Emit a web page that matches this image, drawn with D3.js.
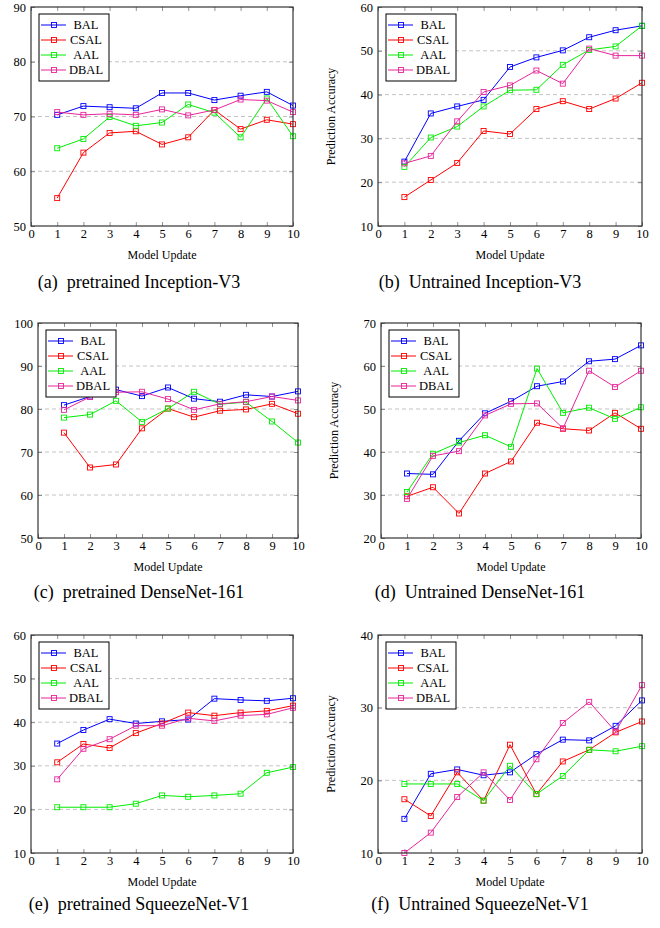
<!DOCTYPE html>
<html>
<head>
<meta charset="utf-8">
<script src="https://cdn.jsdelivr.net/npm/d3@7"></script>
<style>
  body { margin: 0; background: #fff; }
  svg { display: block; }
  text { font-family: "Liberation Serif", "Times New Roman", serif; fill: #000; }
</style>
</head>
<body>
<svg id="chart"></svg>
<script>
const modelUpdates = [1, 2, 3, 4, 5, 6, 7, 8, 9, 10];
const xTicks = [0, 1, 2, 3, 4, 5, 6, 7, 8, 9, 10];
const methods = ["BAL", "CSAL", "AAL", "DBAL"];

// (a) pretrained Inception-V3
const incPreBAL = [70.3, 71.9, 71.7, 71.5, 74.3, 74.3, 73.0, 73.8, 74.5, 72.0];
const incPreCSAL = [55.1, 63.4, 67.0, 67.3, 64.9, 66.2, 71.2, 67.7, 69.4, 68.6];
const incPreAAL = [64.2, 65.9, 69.9, 68.3, 68.9, 72.2, 70.7, 66.2, 73.3, 66.4];
const incPreDBAL = [70.8, 70.3, 70.5, 70.3, 71.3, 70.2, 71.2, 73.1, 72.9, 70.8];
const incPreTicks = [50, 60, 70, 80, 90];

// (b) Untrained Inception-V3
const incUntBAL = [24.7, 35.7, 37.3, 38.8, 46.3, 48.5, 50.1, 53.1, 54.7, 55.7];
const incUntCSAL = [16.6, 20.5, 24.4, 31.7, 31.0, 36.7, 38.5, 36.7, 39.1, 42.7];
const incUntAAL = [23.5, 30.2, 32.7, 37.3, 41.0, 41.1, 46.8, 50.2, 51.0, 55.7];
const incUntDBAL = [24.3, 26.0, 33.9, 40.6, 42.1, 45.5, 42.5, 50.5, 48.9, 48.9];
const incUntTicks = [10, 20, 30, 40, 50, 60];

// (c) pretrained DenseNet-161
const denPreBAL = [80.9, 82.9, 84.5, 83.0, 85.0, 82.4, 81.7, 83.3, 82.9, 84.1];
const denPreCSAL = [74.5, 66.4, 67.1, 75.5, 80.1, 78.1, 79.6, 79.9, 81.2, 78.9];
const denPreAAL = [78.0, 78.7, 81.9, 77.0, 80.1, 84.0, 81.1, 81.6, 77.1, 72.2];
const denPreDBAL = [79.8, 82.8, 83.9, 84.0, 82.3, 79.8, 81.2, 81.7, 82.9, 82.0];
const denPreTicks = [50, 60, 70, 80, 90, 100];

// (d) Untrained DenseNet-161
const denUntBAL = [35.0, 34.8, 42.6, 49.0, 51.8, 55.3, 56.4, 61.1, 61.6, 64.8];
const denUntCSAL = [29.7, 31.8, 25.7, 35.0, 37.8, 46.8, 45.4, 45.0, 49.1, 45.4];
const denUntAAL = [30.7, 39.6, 42.2, 43.9, 41.2, 59.4, 49.1, 50.3, 47.7, 50.4];
const denUntDBAL = [29.1, 39.1, 40.2, 48.5, 51.2, 51.3, 45.5, 58.9, 55.1, 58.9];
const denUntTicks = [20, 30, 40, 50, 60, 70];

// (e) pretrained SqueezeNet-V1
const sqzPreBAL = [35.1, 38.2, 40.7, 39.7, 40.2, 40.6, 45.4, 45.1, 44.9, 45.5];
const sqzPreCSAL = [30.8, 35.0, 34.1, 37.5, 39.7, 42.2, 41.5, 42.2, 42.6, 43.8];
const sqzPreAAL = [20.5, 20.5, 20.5, 21.3, 23.2, 22.9, 23.2, 23.6, 28.4, 29.7];
const sqzPreDBAL = [26.9, 33.9, 36.1, 39.2, 39.2, 40.9, 40.3, 41.5, 41.8, 43.3];
const sqzPreTicks = [10, 20, 30, 40, 50, 60];

// (f) Untrained SqueezeNet-V1
const sqzUntBAL = [14.7, 20.9, 21.5, 20.7, 21.1, 23.6, 25.6, 25.5, 27.5, 31.0];
const sqzUntCSAL = [17.4, 15.1, 21.1, 17.2, 24.9, 18.1, 22.6, 24.2, 26.6, 28.1];
const sqzUntAAL = [19.5, 19.5, 19.5, 17.2, 22.0, 18.1, 20.6, 24.2, 24.0, 24.7];
const sqzUntDBAL = [10.0, 12.8, 17.7, 21.1, 17.3, 22.9, 27.9, 30.8, 26.7, 33.1];
const sqzUntTicks = [10, 20, 30, 40];

const captions = [
  "(a)\u2002pretrained Inception-V3",
  "(b)\u2002Untrained Inception-V3",
  "(c)\u2002pretrained DenseNet-161",
  "(d)\u2002Untrained DenseNet-161",
  "(e)\u2002pretrained SqueezeNet-V1",
  "(f)\u2002Untrained SqueezeNet-V1",
];

const colors = ["#0000ff", "#ff0000", "#00ee00", "#e8259a"];

const width = 660;
const height = 928;

const panels = [
  { series: [incPreBAL, incPreCSAL, incPreAAL, incPreDBAL], ticks: incPreTicks,
    left: 31, top: 7, w: 262, h: 219, yLabel: false, capX: 139, capY: 288 },
  { series: [incUntBAL, incUntCSAL, incUntAAL, incUntDBAL], ticks: incUntTicks,
    left: 378, top: 7, w: 264, h: 219, yLabel: true, capX: 480, capY: 288 },
  { series: [denPreBAL, denPreCSAL, denPreAAL, denPreDBAL], ticks: denPreTicks,
    left: 38, top: 323, w: 260, h: 215, yLabel: false, capX: 139, capY: 598 },
  { series: [denUntBAL, denUntCSAL, denUntAAL, denUntDBAL], ticks: denUntTicks,
    left: 381, top: 323, w: 260, h: 215, yLabel: true, capX: 480, capY: 598 },
  { series: [sqzPreBAL, sqzPreCSAL, sqzPreAAL, sqzPreDBAL], ticks: sqzPreTicks,
    left: 31, top: 635, w: 262, h: 218, yLabel: false, capX: 139, capY: 910 },
  { series: [sqzUntBAL, sqzUntCSAL, sqzUntAAL, sqzUntDBAL], ticks: sqzUntTicks,
    left: 378, top: 635, w: 264, h: 218, yLabel: true, capX: 480, capY: 910 },
];

const svg = d3.select("#chart").attr("width", width).attr("height", height);

const drawSquare = (sel, s) =>
  sel
    .append("rect")
    .attr("x", -s / 2)
    .attr("y", -s / 2)
    .attr("width", s)
    .attr("height", s)
    .attr("fill", "none")
    .attr("stroke-width", 0.9);

panels.forEach((p, pi) => {
  const g = svg.append("g").attr("transform", `translate(${p.left},${p.top})`);

  const xScale = d3.scaleLinear().domain([0, 10]).range([0, p.w]);
  const yScale = d3
    .scaleLinear()
    .domain(d3.extent(p.ticks))
    .range([p.h, 0]);

  // dashed grid
  g.selectAll(".grid")
    .data(p.ticks.slice(1, -1))
    .join("line")
    .attr("class", "grid")
    .attr("x1", 0)
    .attr("x2", p.w)
    .attr("y1", (d) => yScale(d))
    .attr("y2", (d) => yScale(d))
    .attr("stroke", "#b4b4b4")
    .attr("stroke-width", 0.8)
    .attr("stroke-dasharray", "4,3");

  // axes, ticks pointing inward
  const xAxis = g
    .append("g")
    .attr("transform", `translate(0,${p.h})`)
    .call(d3.axisBottom(xScale).tickValues(xTicks).tickSize(-4).tickPadding(3.5).tickFormat(d3.format("d")));
  const xTop = g
    .append("g")
    .call(d3.axisTop(xScale).tickValues(xTicks).tickSize(-4).tickFormat(""));
  const yAxis = g
    .append("g")
    .call(d3.axisLeft(yScale).tickValues(p.ticks).tickSize(-4).tickPadding(5).tickFormat(d3.format("d")));
  const yRight = g
    .append("g")
    .attr("transform", `translate(${p.w},0)`)
    .call(d3.axisRight(yScale).tickValues(p.ticks).tickSize(-4).tickFormat(""));

  [xAxis, xTop, yAxis, yRight].forEach((a) => {
    a.select(".domain").remove();
    a.selectAll(".tick line").attr("stroke", "#777").attr("stroke-width", 0.8);
    a.selectAll(".tick text")
      .style("font-family", '"Liberation Serif", serif')
      .style("font-size", "12.5px")
      .attr("fill", "#222");
  });

  // series
  const line = d3
    .line()
    .x((d, i) => xScale(modelUpdates[i]))
    .y((d) => yScale(d));

  p.series.forEach((values, si) => {
    g.append("path")
      .datum(values)
      .attr("fill", "none")
      .attr("stroke", colors[si])
      .attr("stroke-width", 1)
      .attr("d", line);

    g.selectAll(`.mark-${si}`)
      .data(values)
      .join("g")
      .attr("class", `mark-${si}`)
      .attr("transform", (d, i) => `translate(${xScale(modelUpdates[i])},${yScale(d)})`)
      .each(function () {
        drawSquare(d3.select(this), 5).attr("stroke", colors[si]);
      });
  });

  // box
  g.append("rect")
    .attr("width", p.w)
    .attr("height", p.h)
    .attr("fill", "none")
    .attr("stroke", "#222")
    .attr("stroke-width", 1.1);

  // legend
  const legend = g.append("g").attr("transform", "translate(8,7)");
  legend
    .append("rect")
    .attr("width", 70)
    .attr("height", 67)
    .attr("fill", "#fff")
    .attr("stroke", "#000")
    .attr("stroke-width", 1);

  const rows = legend
    .selectAll(".row")
    .data(methods)
    .join("g")
    .attr("class", "row")
    .attr("transform", (d, i) => `translate(0,${11 + i * 15})`);

  rows
    .append("line")
    .attr("x1", 2)
    .attr("x2", 27)
    .attr("stroke", (d, i) => colors[i])
    .attr("stroke-width", 1);

  rows.each(function (d, i) {
    drawSquare(d3.select(this).append("g").attr("transform", "translate(15,0)"), 5).attr("stroke", colors[i]);
  });

  rows
    .append("text")
    .attr("x", 47)
    .attr("y", 4)
    .attr("text-anchor", "middle")
    .style("font-size", "12.5px")
    .text((d) => d);

  // axis titles
  g.append("text")
    .attr("x", p.w / 2)
    .attr("y", p.h + 33)
    .attr("text-anchor", "middle")
    .style("font-size", "12px")
    .text("Model Update");

  if (p.yLabel) {
    g.append("text")
      .attr("transform", `translate(-43, ${p.h / 2}) rotate(-90)`)
      .attr("text-anchor", "middle")
      .style("font-size", "12px")
      .text("Prediction Accuracy");
  }

  // caption
  svg
    .append("text")
    .attr("x", p.capX)
    .attr("y", p.capY)
    .attr("text-anchor", "middle")
    .style("font-size", "18px")
    .text(captions[pi]);
});
</script>
</body>
</html>
